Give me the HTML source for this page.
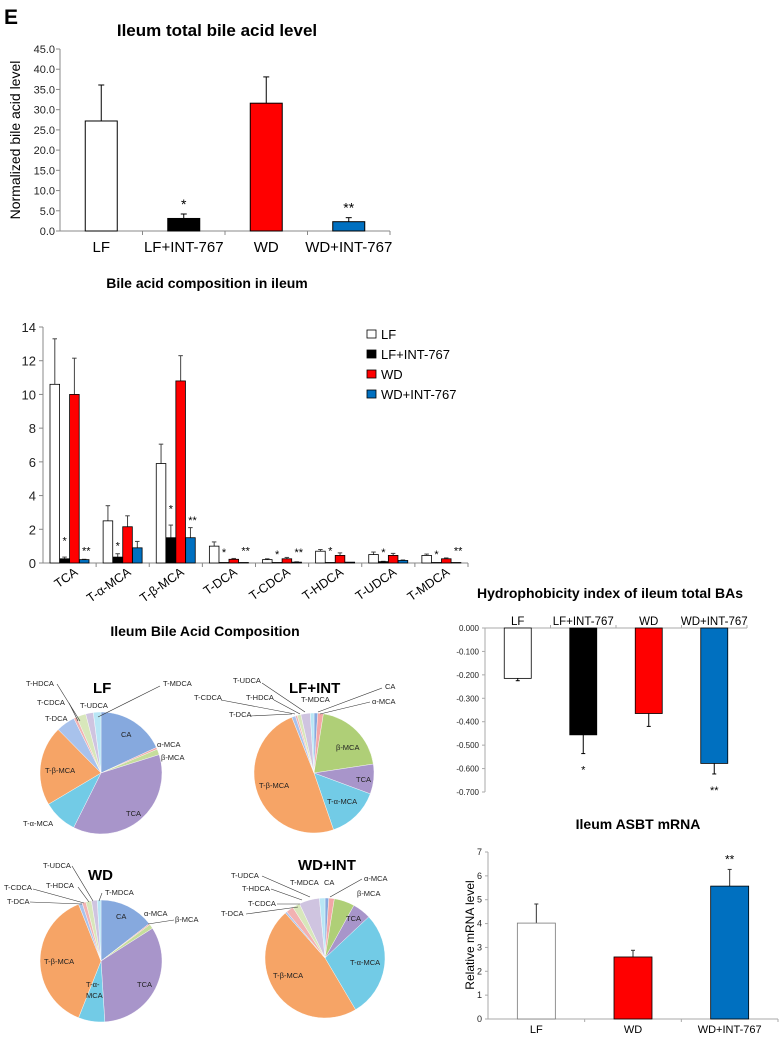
<!DOCTYPE html>
<html><head><meta charset="utf-8">
<style>
html,body{margin:0;padding:0;background:#fff;}
svg{display:block;font-family:"Liberation Sans",Arial,sans-serif;}
</style></head>
<body>
<svg id="fig" width="781" height="1037" viewBox="0 0 781 1037" xmlns="http://www.w3.org/2000/svg">
<text x="4" y="24" font-size="21" font-weight="bold">E</text>
<text x="217" y="36" font-size="17" font-weight="bold" text-anchor="middle">Ileum total bile acid level</text>
<text transform="translate(20,140) rotate(-90)" font-size="14" text-anchor="middle">Normalized bile acid level</text>
<g id="c1"></g>
<text x="207" y="288" font-size="14" font-weight="bold" text-anchor="middle">Bile acid composition in ileum</text>
<g id="c2"></g>
<text x="205" y="636" font-size="14" font-weight="bold" text-anchor="middle">Ileum Bile Acid Composition</text>
<g id="pies"></g>
<text x="610" y="598" font-size="14" font-weight="bold" text-anchor="middle">Hydrophobicity index of ileum total BAs</text>
<g id="c3"></g>
<text x="638" y="829" font-size="14" font-weight="bold" text-anchor="middle">Ileum ASBT mRNA</text>
<text transform="translate(474,935) rotate(-90)" font-size="12" text-anchor="middle">Relative mRNA level</text>
<g id="c4"></g>
</svg>
<script>
// ---------- data ----------
const c1Cats=["LF","LF+INT-767","WD","WD+INT-767"];
const c1Vals=[27.2,3.1,31.6,2.3];
const c1Errs=[8.9,1.1,6.5,1.0];
const c1Stars=["","*","","**"];
const c1Ticks=[0,5,10,15,20,25,30,35,40,45];

const c2Cats=["TCA","T-α-MCA","T-β-MCA","T-DCA","T-CDCA","T-HDCA","T-UDCA","T-MDCA"];
const c2Series=["LF","LF+INT-767","WD","WD+INT-767"];
const c2LF=[10.6,2.5,5.9,1.0,0.2,0.7,0.5,0.45];
const c2LFInt=[0.25,0.35,1.5,0.03,0.03,0.03,0.08,0.03];
const c2WD=[10.0,2.15,10.8,0.22,0.25,0.45,0.45,0.25];
const c2WDInt=[0.2,0.9,1.5,0.03,0.05,0.05,0.15,0.03];
const c2LFErr=[2.7,0.9,1.15,0.25,0.05,0.1,0.15,0.08];
const c2LFIntErr=[0.1,0.2,0.75,0,0,0,0.02,0];
const c2WDErr=[2.15,0.65,1.5,0.05,0.08,0.15,0.12,0.05];
const c2WDIntErr=[0.02,0.38,0.6,0,0.02,0,0.03,0];
const c2StarA=[1.4,1.1,3.3,0.7,0.6,0.8,0.7,0.6];
const c2StarB=[0.8,0,2.6,0.8,0.7,0,0,0.8];
const c2Ticks=[0,2,4,6,8,10,12,14];

const c3Cats=["LF","LF+INT-767","WD","WD+INT-767"];
const c3Vals=[-0.215,-0.456,-0.365,-0.578];
const c3Errs=[0.01,0.08,0.055,0.045];
const c3Stars=["","*","","**"];
const c3Ticks=[0,-0.1,-0.2,-0.3,-0.4,-0.5,-0.6,-0.7];

const c4Cats=["LF","WD","WD+INT-767"];
const c4Vals=[4.02,2.6,5.57];
const c4Errs=[0.8,0.28,0.7];
const c4Stars=["","","**"];
const c4Ticks=[0,1,2,3,4,5,6,7];

const pieNames=["CA","α-MCA","β-MCA","TCA","T-α-MCA","T-β-MCA","T-DCA","T-CDCA","T-HDCA","T-UDCA","T-MDCA"];
const pieLF=[18,0.5,1.5,37,9,21,5,0.8,2.5,2,2];
const pieLFInt=[1,1.5,20,8,14,49,1,0.5,1,2.5,1];
const pieWD=[14.5,0.3,1.2,33,7,38,1,1,1.5,1.5,1];
const pieWDInt=[1,1.5,5.5,5,28.5,47,0.5,2,2,5.5,1.5];

// ---------- helpers ----------
const NS="http://www.w3.org/2000/svg";
function mk(parent,tag,attrs,txt){const e=document.createElementNS(NS,tag);for(const k in attrs)e.setAttribute(k,attrs[k]);if(txt!==undefined)e.textContent=txt;parent.appendChild(e);return e;}
const COLORS=["#ffffff","#000000","#ff0000","#0070c0"];

// ---------- chart 1 ----------
(function(){
 const g=document.getElementById('c1');
 const x0=60,x1=390,yb=231,yt=49,max=45;
 const y=v=>yb-(v/max)*(yb-yt);
 const bw=(x1-x0)/c1Cats.length;
 c1Ticks.forEach(t=>{
  const tl=mk(g,'text',{x:55,y:y(t)+4,'font-size':11,'text-anchor':'end',fill:'#222'},t.toFixed(1));
  
  
  mk(g,'line',{x1:x0-4,x2:x0,y1:y(t),y2:y(t),stroke:'#888'});
 });
 mk(g,'line',{x1:x0,x2:x0,y1:yt,y2:yb,stroke:'#888'});
 mk(g,'line',{x1:x0,x2:x1,y1:yb,y2:yb,stroke:'#888'});
 c1Cats.forEach((c,i)=>{
  const cx=x0+bw*(i+0.5);
  mk(g,'line',{x1:x0+bw*(i+1),x2:x0+bw*(i+1),y1:yb,y2:yb+4,stroke:'#888'});
  const v=c1Vals[i],e=c1Errs[i];
  mk(g,'line',{x1:cx,x2:cx,y1:y(v),y2:y(v+e),stroke:'#000'});
  mk(g,'line',{x1:cx-3,x2:cx+3,y1:y(v+e),y2:y(v+e),stroke:'#000'});
  const b=mk(g,'rect',{x:cx-16,y:y(v),width:32,height:yb-y(v),fill:COLORS[i],stroke:'#000','stroke-width':1});
  
  
  const l=mk(g,'text',{x:cx,y:252,'font-size':15,'text-anchor':'middle'},c);
  
  
  if(c1Stars[i]){const s=mk(g,'text',{x:cx,y:y(v+e)-5,'font-size':14,'text-anchor':'middle'},c1Stars[i]);
   
   }
 });
})();

// ---------- chart 2 ----------
(function(){
 const g=document.getElementById('c2');
 const x0=43,x1=468,yb=563,yt=327,max=14;
 const y=v=>yb-(v/max)*(yb-yt);
 const gw=(x1-x0)/c2Cats.length;
 const series=[c2LF,c2LFInt,c2WD,c2WDInt],errs=[c2LFErr,c2LFIntErr,c2WDErr,c2WDIntErr];
 c2Ticks.forEach(t=>{
  const tl=mk(g,'text',{x:36,y:y(t)+5,'font-size':13,'text-anchor':'end',fill:'#222'},t);
  
  
  mk(g,'line',{x1:x0-4,x2:x0,y1:y(t),y2:y(t),stroke:'#888'});
 });
 mk(g,'line',{x1:x0,x2:x0,y1:yt,y2:yb,stroke:'#888'});
 mk(g,'line',{x1:x0,x2:x1,y1:yb,y2:yb,stroke:'#888'});
 c2Cats.forEach((c,i)=>{
  const gx=x0+gw*i;
  mk(g,'line',{x1:gx+gw,x2:gx+gw,y1:yb,y2:yb+4,stroke:'#888'});
  series.forEach((s,j)=>{
   const bx=gx+7+j*9.8,v=s[i],e=errs[j][i];
   if(e>0){mk(g,'line',{x1:bx+4.8,x2:bx+4.8,y1:y(v),y2:y(v+e),stroke:'#444'});
    mk(g,'line',{x1:bx+2.5,x2:bx+7,y1:y(v+e),y2:y(v+e),stroke:'#444'});}
   const b=mk(g,'rect',{x:bx,y:y(v),width:9.6,height:Math.max(0.5,yb-y(v)),fill:COLORS[j],stroke:'#000','stroke-width':0.8});
   
   
  });
  if(c2StarA[i]){const s=mk(g,'text',{x:gx+7+9.8*1.5,y:y(c2StarA[i])+5,'font-size':11,'text-anchor':'middle'},'*');
   
   }
  if(c2StarB[i]){const s=mk(g,'text',{x:gx+7+9.8*3.7,y:y(c2StarB[i])+5,'font-size':11,'text-anchor':'middle'},'**');
   
   }
  const cx=gx+gw/2+9;
  const l=mk(g,'text',{x:cx,y:574,'font-size':12.5,'text-anchor':'end',transform:`rotate(-35 ${cx} 574)`},c);
  
  
 });
 c2Series.forEach((s,j)=>{
  const ly=335+j*20;
  const r=mk(g,'rect',{x:367,y:ly-5,width:9,height:8,fill:COLORS[j],stroke:'#000','stroke-width':0.8});
  
  
  const t=mk(g,'text',{x:381,y:ly+4,'font-size':13},s);
  
  
 });
})();

// ---------- chart 3 ----------
(function(){
 const g=document.getElementById('c3');
 const x0=485,x1=747,y0=628,yl=792,min=-0.7;
 const y=v=>y0+(v/min)*(yl-y0);
 const bw=(x1-x0)/c3Cats.length;
 c3Ticks.forEach(t=>{
  const tl=mk(g,'text',{x:479,y:y(t)+3,'font-size':8,'text-anchor':'end',fill:'#222'},t.toFixed(3));
  
  
  mk(g,'line',{x1:x0-3,x2:x0,y1:y(t),y2:y(t),stroke:'#aaa'});
 });
 mk(g,'line',{x1:x0,x2:x0,y1:y0,y2:yl,stroke:'#aaa'});
 mk(g,'line',{x1:x0,x2:x1,y1:y0,y2:y0,stroke:'#aaa'});
 c3Cats.forEach((c,i)=>{
  const cx=x0+bw*(i+0.5),v=c3Vals[i],e=c3Errs[i];
  mk(g,'line',{x1:x0+bw*(i+1),x2:x0+bw*(i+1),y1:y0-3,y2:y0,stroke:'#aaa'});
  mk(g,'line',{x1:cx,x2:cx,y1:y(v),y2:y(v-e),stroke:'#000'});
  mk(g,'line',{x1:cx-2,x2:cx+2,y1:y(v-e),y2:y(v-e),stroke:'#000'});
  const b=mk(g,'rect',{x:cx-13.5,y:y0,width:27,height:y(v)-y0,fill:COLORS[i],stroke:'#000','stroke-width':0.8});
  
  
  const l=mk(g,'text',{x:cx,y:625,'font-size':11.5,'text-anchor':'middle'},c);
  
  
  if(c3Stars[i]){const s=mk(g,'text',{x:cx,y:y(v-e)+20,'font-size':11,'text-anchor':'middle'},c3Stars[i]);
   
   }
 });
})();

// ---------- chart 4 ----------
(function(){
 const g=document.getElementById('c4');
 const x0=488,x1=778,yb=1019,yt=852,max=7;
 const y=v=>yb-(v/max)*(yb-yt);
 const bw=(x1-x0)/c4Cats.length;
 const cols=["#ffffff","#ff0000","#0070c0"];
 c4Ticks.forEach(t=>{
  const tl=mk(g,'text',{x:482,y:y(t)+3,'font-size':9,'text-anchor':'end',fill:'#222'},t);
  
  
  mk(g,'line',{x1:x0-3,x2:x0,y1:y(t),y2:y(t),stroke:'#aaa'});
 });
 mk(g,'line',{x1:x0,x2:x0,y1:yt,y2:yb,stroke:'#aaa'});
 mk(g,'line',{x1:x0,x2:x1,y1:yb,y2:yb,stroke:'#aaa'});
 c4Cats.forEach((c,i)=>{
  const cx=x0+bw*(i+0.5),v=c4Vals[i],e=c4Errs[i];
  mk(g,'line',{x1:x0+bw*(i+1),x2:x0+bw*(i+1),y1:yb,y2:yb+3,stroke:'#aaa'});
  mk(g,'line',{x1:cx,x2:cx,y1:y(v),y2:y(v+e),stroke:'#333'});
  mk(g,'line',{x1:cx-2,x2:cx+2,y1:y(v+e),y2:y(v+e),stroke:'#333'});
  const b=mk(g,'rect',{x:cx-19,y:y(v),width:38,height:yb-y(v),fill:cols[i],stroke:i==0?'#777':'#000','stroke-width':0.8});
  
  
  const l=mk(g,'text',{x:cx,y:1033,'font-size':11,'text-anchor':'middle'},c);
  
  
  if(c4Stars[i]){const s=mk(g,'text',{x:cx,y:y(v+e)-6,'font-size':12,'text-anchor':'middle'},c4Stars[i]);
   
   }
 });
})();

// ---------- pies ----------
const pieCols=["#86a9de","#f3a6a6","#c6dd9c","#a895ca","#72cbe6","#f6a466","#a8c2ec","#f2b2b2","#d8e7bb","#cfc4e0","#b8e6f5"];
const pieColsAlt=["#86a9de","#f3a6a6","#afcf77","#a895ca","#72cbe6","#f6a466","#a8c2ec","#f2b2b2","#d8e7bb","#cfc4e0","#b8e6f5"];
function pie(vals,cx,cy,r,title,tx,ty,labels,cols,key){
 const g=document.getElementById('pies');
 const sub=mk(g,'g',{});
 
 
 const tot=vals.reduce((a,b)=>a+b,0);let a=0;
 vals.forEach((v,i)=>{
  const a0=a/tot*2*Math.PI;a+=v;const a1=a/tot*2*Math.PI;
  const p=(t)=>[cx+r*Math.sin(t),cy-r*Math.cos(t)];
  const [xa,ya]=p(a0),[xb,yb]=p(a1);
  const s=mk(sub,'path',{d:`M${cx},${cy}L${xa},${ya}A${r},${r} 0 ${a1-a0>Math.PI?1:0} 1 ${xb},${yb}Z`,fill:cols[i],stroke:'#fff','stroke-width':0.4});
  
  
 });
 const t=mk(sub,'text',{x:tx,y:ty,'font-size':15,'font-weight':'bold'},title);
 
 
 labels.forEach(L=>{
  if(L[3]!==undefined)mk(sub,'line',{x1:L[3],y1:L[4],x2:L[5],y2:L[6],stroke:'#333','stroke-width':0.6});
  const lt=mk(sub,'text',{x:L[1],y:L[2],'font-size':7.5,fill:'#222'},L[0]);
  
  
 });
}
pie(pieLF,101,773,61,"LF",93,693,[
 ["T-HDCA",26,686,57,684,80,721],["T-CDCA",37,705,69,703,78,721],["T-DCA",45,721],["T-UDCA",80,708],
 ["T-MDCA",163,686,160,686,98,717],["CA",121,737],["α-MCA",157,747],["β-MCA",161,760],["T-β-MCA",45,773],["TCA",126,816],["T-α-MCA",23,826]],pieCols,'lf');
pie(pieLFInt,314,773,60,"LF+INT",289,693,[
 ["T-UDCA",233,683,262,683,305,712],["T-CDCA",194,700,221,700,295,714],["T-HDCA",246,700,274,700,300,714],["T-DCA",229,717,250,716,292,714],
 ["T-MDCA",301,702],["CA",385,689,382,688,318,712],["α-MCA",372,704,370,702,320,714],["β-MCA",336,750],["TCA",356,782],["T-α-MCA",327,804],["T-β-MCA",259,788]],pieColsAlt,'lf-int');
pie(pieWD,101,961,61,"WD",88,880,[
 ["T-UDCA",43,868,72,866,93,901],["T-CDCA",4,890,33,889,84,903],["T-HDCA",46,888,78,887,89,902],["T-DCA",7,904,30,902,82,904],
 ["T-MDCA",105,895,102,893,99,901],["CA",116,919],["α-MCA",144,916],["β-MCA",175,922,174,920,148,924],["T-β-MCA",44,964],["TCA",137,987],["T-α-",86,987],["MCA",86,998]],pieCols,'wd');
pie(pieWDInt,325,958,60,"WD+INT",298,870,[
 ["T-UDCA",231,878,262,876,310,897],["T-HDCA",242,891,271,889,302,900],["T-CDCA",248,906,277,904,300,904],["T-DCA",221,916,246,914,298,907],
 ["T-MDCA",290,885],["CA",324,885],["α-MCA",364,881,362,879,330,897],["β-MCA",357,896],["TCA",346,921],["T-α-MCA",350,965],["T-β-MCA",273,978]],pieColsAlt,'wd-int');
</script>
</body></html>
